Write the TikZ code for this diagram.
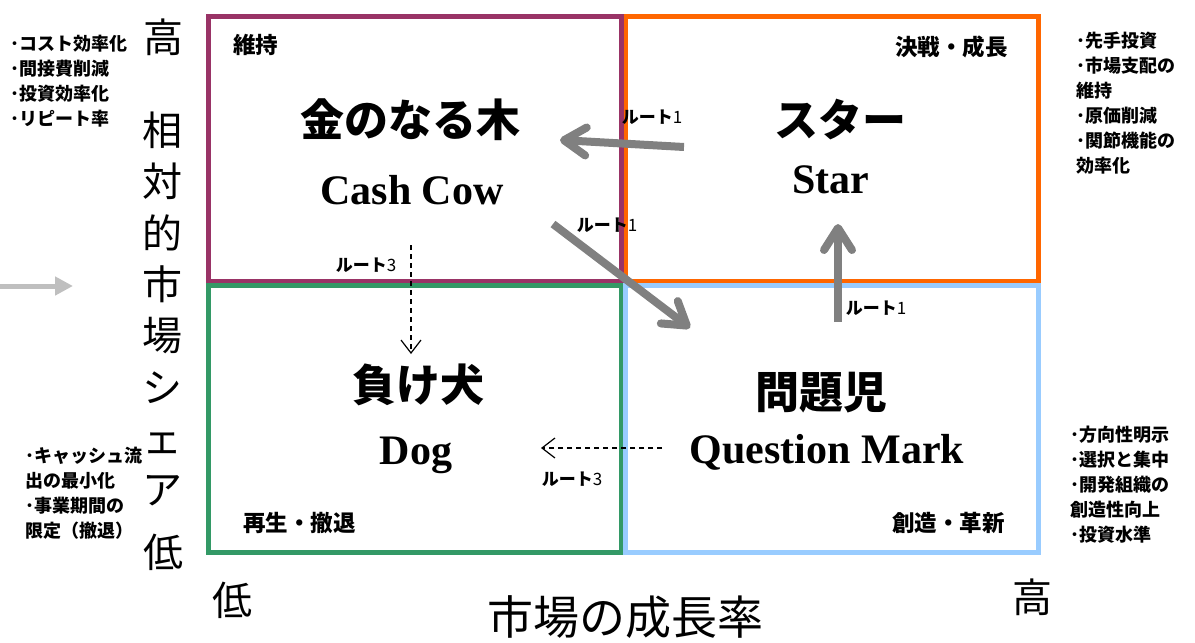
\documentclass[tikz,border=0pt]{standalone}
\usepackage{fontspec}
\setmainfont{Noto Sans CJK JP}
\newfontfamily\latinserif{Liberation Serif}
\usepackage{xcolor}
\usetikzlibrary{arrows.meta}
\definecolor{cowpurple}{HTML}{993366}
\definecolor{starorange}{HTML}{FF6600}
\definecolor{doggreen}{HTML}{339966}
\definecolor{qmblue}{HTML}{99CCFF}
\definecolor{routegray}{HTML}{808080}
\definecolor{hintgray}{HTML}{BFBFBF}
\newcommand\fsz[2]{\fontsize{#1}{#2}\selectfont}

\begin{document}
\begin{tikzpicture}%
                    [x=1pt, y=-1pt,
                    quad/.style={line width=5pt},
                    title/.style={font=\fsz{44}{44}\bfseries, inner sep=0},
                    entitle/.style={font=\fsz{42}{42}\latinserif\bfseries, inner sep=0},
                    corner/.style={font=\fsz{22.5}{22.5}\bfseries, inner sep=0},
                    axis/.style={font=\fsz{40}{40}, inner sep=0},
                    memo/.style={font=\fsz{18}{25}\bfseries, align=left, inner sep=0, anchor=north west},
                    routelbl/.style={font=\fsz{17}{17}, inner sep=0},
                    route/.style={color=routegray, line width=8pt, -{Straight Barb[length=22pt,width=28pt,round]}},
                    weak/.style={line width=1.2pt, dash pattern=on 5pt off 4pt, -{Straight Barb[length=13pt,width=20pt]}}]
                \useasboundingbox (0,0) rectangle (1195,643);
                %% Drawing the four quadrants
                \draw[quad, starorange] (625.5,16) rectangle (1038.5,281.5);
                \draw[quad, cowpurple] (208.5,16) rectangle (621.5,281.5);
                \draw[quad, doggreen] (208.5,285.5) rectangle (621.5,552);
                \draw[quad, qmblue] (625.5,285.5) rectangle (1038.5,552);
                %%
                %% Quadrant names
                %%
                \node[title] (cowjp) at (410,120) {金のなる木};
                \node[entitle] (cowen) at (412,190) {Cash Cow};
                \node[title] (starjp) at (840,120) {スター};
                \node[entitle] (staren) at (831,180) {Star};
                \node[title] (dogjp) at (418,385) {負け犬};
                \node[entitle] (dogen) at (416,455) {Dog};
                \node[title] (qmjp) at (821,393) {問題児};
                \node[entitle] (qmen) at (827,452) {Question Mark};
                \node[corner, anchor=west] (cowtag) at (233,45) {維持};
                \node[corner, anchor=east] (startag) at (1008,47) {決戦・成長};
                \node[corner, anchor=west] (dogtag) at (243,523) {再生・撤退};
                \node[corner, anchor=east] (qmtag) at (1005,523) {創造・革新};
                %% Axes
                \node[axis] (yhigh) at (163,37) {高};
                \node[axis] (ylow) at (163,552) {低};
                \node[axis, align=center, font=\fsz{40}{51.3}] (ytitle) at (162,309) {相\\対\\的\\市\\場\\シ\\ェ\\ア};
                \node[axis] (xlow) at (232,600) {低};
                \node[axis] (xhigh) at (1032,597) {高};
                \node[axis, font=\fsz{46}{46}] (xtitle) at (625,617) {市場の成長率};
                \coordinate (hintstart) at (0,286);
                \coordinate (hintend) at (73,286);
                \draw[hintgray, line width=5pt, -{Triangle[length=18pt,width=18pt]}] (hintstart) -- (hintend);
                %% Memos beside the quadrants
                \node[memo] (cowmemo) at (10,35) {･コスト効率化\\･間接費削減\\･投資効率化\\･リピート率};
                \node[memo] (starmemo) at (1076,32) {･先手投資\\･市場支配の\\維持\\･原価削減\\･関節機能の\\効率化};
                \node[memo] (dogmemo) at (25,447) {･キャッシュ流\\出の最小化\\･事業期間の\\限定（撤退）};
                \node[memo] (qmmemo) at (1070,426) {･方向性明示\\･選択と集中\\･開発組織の\\創造性向上\\･投資水準};
                %%
                %% Routes between the quadrants
                %%
                \coordinate (r1a) at (684,147);
                \coordinate (r1b) at (560,140);
                \coordinate (r2a) at (553,224);
                \coordinate (r2b) at (690,328);
                \coordinate (r3a) at (838,322);
                \coordinate (r3b) at (838,224);
                \coordinate (r4a) at (411,245);
                \coordinate (r4b) at (411,354);
                \coordinate (r5a) at (662,448);
                \coordinate (r5b) at (541,448);
                \draw[route] (r1a) -- (r1b);
                \draw[route] (r2a) -- (r2b);
                \draw[route] (r3a) -- (r3b);
                \draw[weak] (r4a) -- (r4b);
                \draw[weak] (r5a) -- (r5b);
                \node[routelbl] (r1lbl) at (652,117) {\bfseries ルート\mdseries 1};
                \node[routelbl] (r2lbl) at (607,225) {\bfseries ルート\mdseries 1};
                \node[routelbl] (r3lbl) at (876,308) {\bfseries ルート\mdseries 1};
                \node[routelbl] (r4lbl) at (366,265) {\bfseries ルート\mdseries 3};
                \node[routelbl] (r5lbl) at (572,479) {\bfseries ルート\mdseries 3};
                \end{tikzpicture}
\end{document}
